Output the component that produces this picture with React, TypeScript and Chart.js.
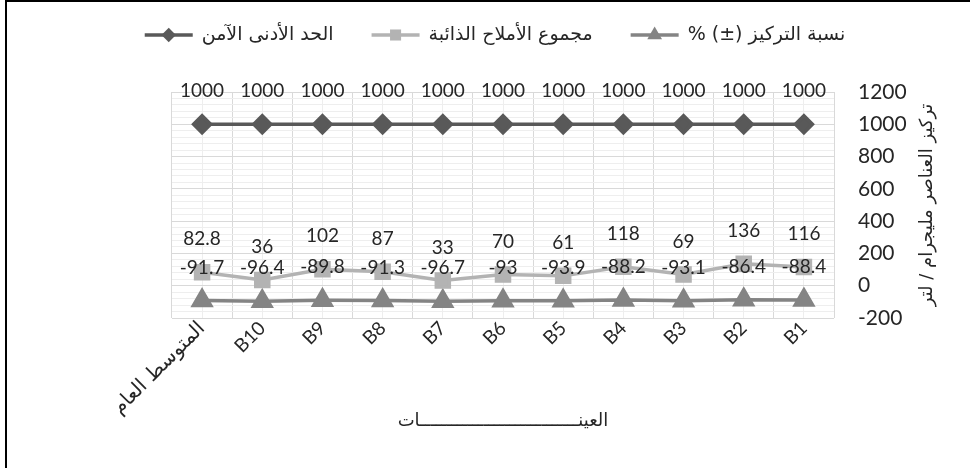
import React, { useEffect, useRef } from "react";
import { Chart, registerables } from "chart.js";

Chart.register(...registerables);

const CATEGORIES = ["B1", "B2", "B3", "B4", "B5", "B6", "B7", "B8", "B9", "B10", "المتوسط العام"];
const SAFE_MIN = [1000, 1000, 1000, 1000, 1000, 1000, 1000, 1000, 1000, 1000, 1000];
const TDS = [116, 136, 69, 118, 61, 70, 33, 87, 102, 36, 82.8];
const PERCENT = [-88.4, -86.4, -93.1, -88.2, -93.9, -93, -96.7, -91.3, -89.8, -96.4, -91.7];
const SERIES_NAMES = ["الحد الأدنى الآمن", "مجموع الأملاح الذائبة", "نسبة التركيز (±) %"];
const Y_TICKS = { min: -200, max: 1200, step: 200, minorStep: 40 };
const Y_TITLE = "تركيز العناصر مليجرام / لتر";
const X_TITLE = "العينــــــــــــــــــــــــــــــات";

const FONT_FAMILY = "Lato, 'DejaVu Sans', sans-serif";
const AR_FAMILY = "'DejaVu Sans', Lato, sans-serif";
const TEXT_COLOR = "#262626";

function drawMarker(ctx: CanvasRenderingContext2D, style: string, x: number, y: number, r: number, color: string) {
  ctx.save();
  ctx.fillStyle = color;
  ctx.beginPath();
  if (style === "rectRot") {
    ctx.moveTo(x - r, y);
    ctx.lineTo(x, y - r);
    ctx.lineTo(x + r, y);
    ctx.lineTo(x, y + r);
  } else if (style === "rect") {
    const s = r * Math.SQRT1_2;
    ctx.rect(x - s, y - s, 2 * s, 2 * s);
  } else {
    const a = (2 * Math.PI) / 3;
    ctx.moveTo(x, y - r);
    ctx.lineTo(x + Math.sin(a) * r, y - Math.cos(a) * r);
    ctx.lineTo(x + Math.sin(2 * a) * r, y - Math.cos(2 * a) * r);
  }
  ctx.closePath();
  ctx.fill();
  ctx.restore();
}

const legendPlugin = {
  id: "excelLegend",
  afterDraw(chart: any) {
    const ctx: CanvasRenderingContext2D = chart.ctx;
    ctx.save();
    ctx.font = `19px ${AR_FAMILY}`;
    const ds = chart.data.datasets;
    const lineW = 48;
    const gap = 9;
    const spacing = 38;
    const widths = ds.map((d: any) => ctx.measureText(d.label).width);
    let total = 0;
    widths.forEach((w: number) => (total += lineW + gap + w));
    total += spacing * (ds.length - 1);
    let x = 495 - total / 2;
    const y = 35;
    ds.forEach((d: any, i: number) => {
      ctx.strokeStyle = d.borderColor;
      ctx.lineWidth = d.borderWidth;
      ctx.beginPath();
      ctx.moveTo(x, y);
      ctx.lineTo(x + lineW, y);
      ctx.stroke();
      drawMarker(ctx, d.pointStyle, x + lineW / 2, y, d.pointRadius * 0.85, d.pointBackgroundColor);
      ctx.fillStyle = TEXT_COLOR;
      (ctx as any).direction = "rtl";
      ctx.textAlign = "left";
      ctx.textBaseline = "middle";
      ctx.fillText(d.label, x + lineW + gap, y);
      x += lineW + gap + widths[i] + spacing;
    });
    ctx.restore();
  },
};

const dataLabelPlugin = {
  id: "excelDataLabels",
  afterDatasetsDraw(chart: any) {
    const ctx: CanvasRenderingContext2D = chart.ctx;
    ctx.save();
    ctx.font = `19px ${FONT_FAMILY}`;
    ctx.fillStyle = TEXT_COLOR;
    ctx.textAlign = "center";
    ctx.textBaseline = "middle";
    chart.data.datasets.forEach((d: any, i: number) => {
      const meta = chart.getDatasetMeta(i);
      meta.data.forEach((el: any, j: number) => {
        ctx.fillText(String(d.data[j]), el.x, el.y - 33);
      });
    });
    ctx.restore();
  },
};

const yTitlePlugin = {
  id: "yTitleLeftRot",
  afterDraw(chart: any) {
    const ctx: CanvasRenderingContext2D = chart.ctx;
    const area = chart.chartArea;
    ctx.save();
    ctx.font = `18px ${AR_FAMILY}`;
    ctx.fillStyle = TEXT_COLOR;
    ctx.textAlign = "center";
    ctx.textBaseline = "middle";
    ctx.translate(927, (area.top + area.bottom) / 2);
    ctx.rotate(-Math.PI / 2);
    ctx.fillText(Y_TITLE, 0, 0);
    ctx.restore();
  },
};

export default function App() {
  const ref = useRef<HTMLCanvasElement | null>(null);
  useEffect(() => {
    document.body.style.margin = "0";
    const canvas = ref.current;
    if (!canvas) return;
    const chart = new Chart(canvas, {
      type: "line",
      data: {
        labels: CATEGORIES,
        datasets: [
          {
            label: SERIES_NAMES[0],
            data: SAFE_MIN,
            borderColor: "#595959",
            backgroundColor: "#595959",
            pointBackgroundColor: "#595959",
            pointBorderColor: "#595959",
            borderWidth: 3.5,
            pointStyle: "rectRot",
            pointRadius: 8.5,
          },
          {
            label: SERIES_NAMES[1],
            data: TDS,
            borderColor: "#b3b3b3",
            backgroundColor: "#b3b3b3",
            pointBackgroundColor: "#b3b3b3",
            pointBorderColor: "#b3b3b3",
            borderWidth: 3.5,
            pointStyle: "rect",
            pointRadius: 9.2,
          },
          {
            label: SERIES_NAMES[2],
            data: PERCENT,
            borderColor: "#848484",
            backgroundColor: "#848484",
            pointBackgroundColor: "#848484",
            pointBorderColor: "#848484",
            borderWidth: 3.5,
            pointStyle: "triangle",
            pointRadius: 10,
          },
        ],
      },
      options: {
        responsive: false,
        animation: false,
        layout: { padding: { left: 172, top: 92, right: 30, bottom: 30 } },
        plugins: {
          legend: { display: false },
          tooltip: { enabled: false },
        },
        scales: {
          x: {
            type: "category",
            reverse: true,
            offset: true,
            grid: { offset: true, color: "#d9d9d9", lineWidth: 1, drawTicks: false },
            border: { display: false },
            ticks: {
              minRotation: 45,
              maxRotation: 45,
              autoSkip: false,
              padding: -1,
              color: TEXT_COLOR,
              font: (c: any) =>
                c.index === CATEGORIES.length - 1
                  ? { family: AR_FAMILY, size: 20 }
                  : { family: FONT_FAMILY, size: 19 },
            },
            title: {
              display: true,
              text: X_TITLE,
              color: TEXT_COLOR,
              font: { family: AR_FAMILY, size: 18 },
              padding: { top: 0, bottom: 6 },
            },
            afterFit: (s: any) => {
              s.height = 120;
            },
          },
          xMinor: {
            type: "category",
            reverse: true,
            offset: true,
            position: "bottom",
            grid: { offset: false, color: "#eeeeee", lineWidth: 1, drawTicks: false },
            border: { display: false },
            ticks: { display: false },
            afterFit: (s: any) => {
              s.height = 0;
            },
          },
          y: {
            type: "linear",
            position: "right",
            min: Y_TICKS.min,
            max: Y_TICKS.max,
            grid: { color: "#d9d9d9", lineWidth: 1, drawTicks: false },
            border: { display: false },
            ticks: {
              stepSize: Y_TICKS.step,
              padding: 24,
              color: TEXT_COLOR,
              font: { family: FONT_FAMILY, size: 21 },
              callback: (v: any) => String(v),
            },
            afterFit: (s: any) => {
              s.width = 106;
            },
          },
          yMinor: {
            type: "linear",
            position: "right",
            min: Y_TICKS.min,
            max: Y_TICKS.max,
            grid: {
              color: (c: any) => (c.tick && c.tick.value % Y_TICKS.step === 0 ? "rgba(0,0,0,0)" : "#eeeeee"),
              lineWidth: 1,
              drawTicks: false,
            },
            border: { display: false },
            ticks: { display: false, stepSize: Y_TICKS.minorStep },
            afterFit: (s: any) => {
              s.width = 0;
            },
          },
        },
      } as any,
      plugins: [dataLabelPlugin, legendPlugin, yTitlePlugin],
    });
    return () => chart.destroy();
  }, []);

  return (
    <div style={{ position: "relative", width: 970, height: 468, background: "#fff" }}>
      <canvas ref={ref} width={970} height={468} style={{ display: "block" }} />
      <div style={{ position: "absolute", left: 5, top: 0, width: 965, height: 2, background: "#000" }} />
      <div style={{ position: "absolute", left: 5, top: 0, width: 2, height: 468, background: "#000" }} />
    </div>
  );
}
